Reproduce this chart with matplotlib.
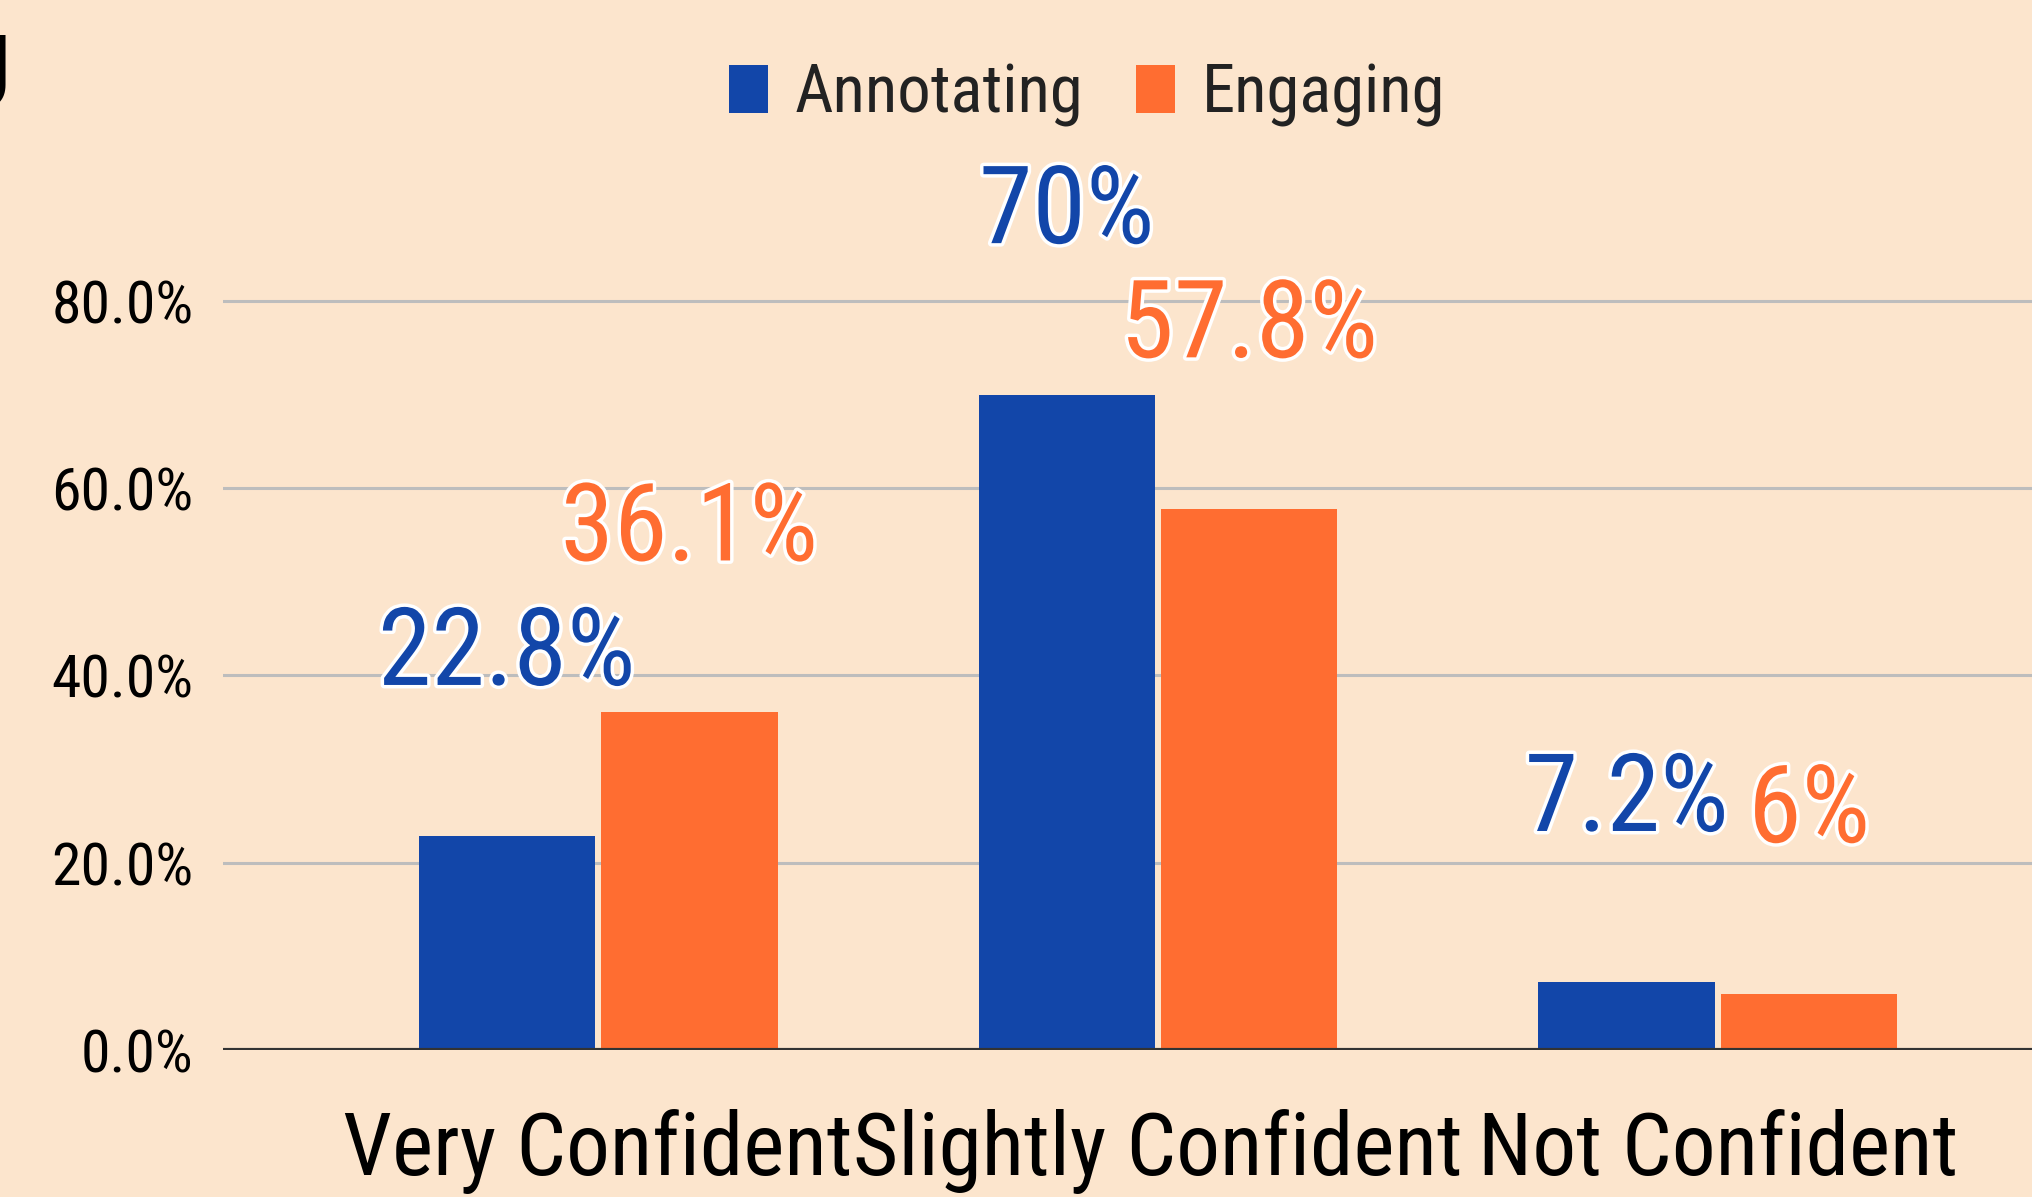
import numpy as np
import matplotlib
matplotlib.use('Agg')
import matplotlib.pyplot as plt
import matplotlib.patheffects as pe
from matplotlib import font_manager
from matplotlib.patches import Patch
from matplotlib.ticker import FuncFormatter

'''Data read off the reference chart'''

categories = ['Very Confident', 'Slightly Confident', 'Not Confident']
annotating = [22.8, 70.0, 7.2]
engaging = [36.1, 57.8, 6.0]
annotating_labels = ['22.8%', '70%', '7.2%']
engaging_labels = ['36.1%', '57.8%', '6%']
yticks = [0, 20, 40, 60, 80]
series_names = ['Annotating', 'Engaging']

BG = '#fce5cd'
BLUE = '#1246a9'
ORANGE = '#ff6d31'

# narrow sans like the reference, first one that is installed
names = {f.name for f in font_manager.fontManager.ttflist}
FONT = 'Liberation Sans'
for cand in ['Liberation Sans Narrow', 'Arial Narrow', 'Roboto Condensed', 'PT Sans Narrow',
             'Archivo Narrow', 'Open Sans Condensed']:
    if cand in names:
        FONT = cand
        break
plt.rcParams['font.family'] = [FONT, 'DejaVu Sans']

fig = plt.figure(figsize=(20.32, 11.97), dpi=100, facecolor=BG)
ax = fig.add_axes([0.1097, 0.1230, 0.8903, 0.782])
ax.set_facecolor(BG)

x = np.arange(len(categories))
w = 0.315
off = 0.163
b1 = ax.bar(x - off, annotating, w, color=BLUE, zorder=3)
b2 = ax.bar(x + off, engaging, w, color=ORANGE, zorder=3)

ax.set_xlim(-0.67, 2.561)
ax.set_ylim(0, 100)

# value labels with white outline
outline = [pe.Stroke(linewidth=5, foreground='white'), pe.Normal()]
for bars, labels, col in [(b1, annotating_labels, BLUE), (b2, engaging_labels, ORANGE)]:
    for rect, lab in zip(bars, labels):
        t = ax.annotate(lab, (rect.get_x() + rect.get_width() / 2, rect.get_height()),
                        xytext=(0, 109), textcoords='offset points',
                        ha='center', va='baseline', fontsize=78, color=col,
                        annotation_clip=False, zorder=5)
        t.set_path_effects(outline)

# grid and axis
ax.set_yticks(yticks)
ax.yaxis.set_major_formatter(FuncFormatter(lambda v, p: '%.1f%%' % v))
for v in yticks[1:]:
    ax.axhline(v, color='#bdbdbd', lw=2.2, zorder=1)
ax.axhline(0, color='#333333', lw=3, zorder=4)
ax.tick_params(axis='y', length=0, pad=21, labelsize=43, labelcolor='black')
ax.set_xticks(x)
ax.set_xticklabels(categories)
ax.tick_params(axis='x', length=0, pad=43, labelsize=63, labelcolor='black')
for s in ax.spines.values():
    s.set_visible(False)

# legend
handles = [Patch(facecolor=BLUE, edgecolor='none'), Patch(facecolor=ORANGE, edgecolor='none')]
fig.legend(handles, series_names, loc='center', bbox_to_anchor=(0.535, 0.921), ncol=2,
           frameon=False, fontsize=48, handlelength=0.58, handleheight=0.75,
           handletextpad=0.4, columnspacing=0.8, labelcolor='#222222')

# cut-off letter at the top left edge
fig.text(0.006, 0.910, 'J', ha='right', va='baseline', fontsize=76,
         fontweight='bold', color='black', family='Liberation Sans')

fig.savefig('out.png', dpi=100, facecolor=BG)
